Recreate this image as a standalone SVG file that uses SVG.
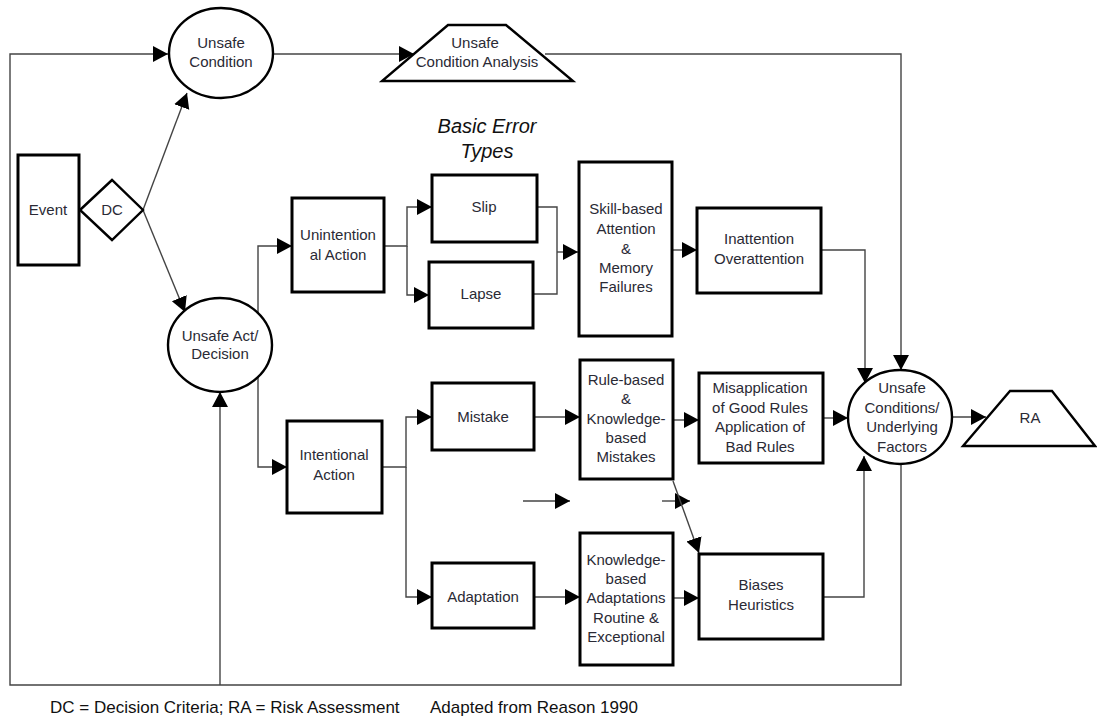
<svg xmlns="http://www.w3.org/2000/svg" width="1097" height="718" viewBox="0 0 1097 718">
<defs>
<marker id="arr" markerUnits="userSpaceOnUse" markerWidth="16" markerHeight="17" refX="15" refY="8" orient="auto">
<path d="M0,0 L15,8 L0,16 z" fill="#000"/>
</marker>
<style>
.c{fill:none;stroke:#444;stroke-width:1.4}
.a{marker-end:url(#arr)}
.box{fill:#fff;stroke:#000;stroke-width:3}
.ell{fill:#fff;stroke:#000;stroke-width:2.4}
.trap{fill:#fff;stroke:#000;stroke-width:2.4}
text{font-family:"Liberation Sans",Arial,sans-serif;font-size:15px;fill:#2a2a35;text-anchor:middle}
.ttl{font-size:20px;font-style:italic;fill:#111}
.ft{font-size:17px;text-anchor:start;fill:#111}
</style>
</defs>
<rect width="1097" height="718" fill="#fff"/>
<g id="connectors">
<path class="c a" d="M901,463 V685 H10 V54 H168"/>
<path class="c a" d="M220,685 V392"/>
<path class="c a" d="M143,210 L187,93"/>
<path class="c a" d="M143,210 L185,312"/>
<path class="c a" d="M273,54 H414"/>
<path class="c a" d="M545,54 H901 V370"/>
<path class="c a" d="M258,345 V246 H292"/>
<path class="c a" d="M258,345 V467 H287"/>
<path class="c a" d="M384,246 H407 V207 H432"/>
<path class="c a" d="M407,246 V295 H429"/>
<path class="c" d="M537,207 H557 V294 H533"/>
<path class="c a" d="M557,252 H578"/>
<path class="c a" d="M672,250 H697"/>
<path class="c a" d="M821,250 H865 V383"/>
<path class="c a" d="M382,467 H406 V417 H432"/>
<path class="c a" d="M406,467 V597 H432"/>
<path class="c a" d="M534,417 H580"/>
<path class="c a" d="M673,420 H699"/>
<path class="c a" d="M823,418 H848"/>
<path class="c a" d="M534,597 H580"/>
<path class="c a" d="M673,598 H699"/>
<path class="c a" d="M823,597 H864 V456"/>
<path class="c a" d="M952,417 H986"/>
<path class="c a" d="M523,501 H570"/>
<path class="c a" d="M662,501 H690"/>
<path class="c a" d="M673,481 L699,553"/>
</g>
<g id="unsafe-condition">
<ellipse class="ell" cx="221" cy="53" rx="52" ry="45"/>
<text x="221" y="48">Unsafe</text>
<text x="221" y="67">Condition</text>
</g>
<g id="uca">
<polygon class="trap" points="448,25 506,25 573,81 382,81"/>
<text x="475" y="48">Unsafe</text>
<text x="477" y="67">Condition Analysis</text>
</g>
<g id="event">
<rect class="box" x="18" y="155" width="61" height="110"/>
<text x="48" y="215">Event</text>
</g>
<g id="dc">
<polygon class="ell" points="80,210 112,180 143,210 112,240"/>
<text x="112" y="215">DC</text>
</g>
<g id="unsafe-act">
<ellipse class="ell" cx="220" cy="345" rx="52" ry="47"/>
<text x="220" y="341">Unsafe Act/</text>
<text x="220" y="359">Decision</text>
</g>
<g id="basic-error-types">
<text class="ttl" x="487" y="133">Basic Error</text>
<text class="ttl" x="487" y="158">Types</text>
</g>
<g id="unintentional">
<rect class="box" x="292" y="198" width="92" height="94"/>
<text x="338" y="240">Unintention</text>
<text x="338" y="260">al Action</text>
</g>
<g id="intentional">
<rect class="box" x="287" y="421" width="95" height="92"/>
<text x="334" y="460">Intentional</text>
<text x="334" y="480">Action</text>
</g>
<g id="slip">
<rect class="box" x="432" y="175" width="105" height="67"/>
<text x="484" y="212">Slip</text>
</g>
<g id="lapse">
<rect class="box" x="429" y="262" width="104" height="66"/>
<text x="481" y="299">Lapse</text>
</g>
<g id="skill">
<rect class="box" x="579" y="162" width="93" height="174"/>
<text x="626" y="214">Skill-based</text>
<text x="626" y="234">Attention</text>
<text x="626" y="254">&amp;</text>
<text x="626" y="273">Memory</text>
<text x="626" y="292">Failures</text>
</g>
<g id="inattention">
<rect class="box" x="697" y="208" width="124" height="85"/>
<text x="759" y="244">Inattention</text>
<text x="759" y="264">Overattention</text>
</g>
<g id="mistake">
<rect class="box" x="432" y="383" width="102" height="67"/>
<text x="483" y="422">Mistake</text>
</g>
<g id="rule-based">
<rect class="box" x="580" y="360" width="93" height="119"/>
<text x="626" y="385">Rule-based</text>
<text x="626" y="404">&amp;</text>
<text x="626" y="424">Knowledge-</text>
<text x="626" y="443">based</text>
<text x="626" y="462">Mistakes</text>
</g>
<g id="misapplication">
<rect class="box" x="699" y="373" width="124" height="90"/>
<text x="760" y="393">Misapplication</text>
<text x="760" y="413">of Good Rules</text>
<text x="760" y="432">Application of</text>
<text x="760" y="452">Bad Rules</text>
</g>
<g id="unsafe-conditions">
<ellipse class="ell" cx="900" cy="417" rx="52" ry="47"/>
<text x="902" y="393">Unsafe</text>
<text x="902" y="413">Conditions/</text>
<text x="902" y="432">Underlying</text>
<text x="902" y="452">Factors</text>
</g>
<g id="ra">
<polygon class="trap" points="1010,391 1052,391 1095,446 963,446"/>
<text x="1030" y="423">RA</text>
</g>
<g id="adaptation">
<rect class="box" x="432" y="563" width="102" height="65"/>
<text x="483" y="602">Adaptation</text>
</g>
<g id="kb-adaptations">
<rect class="box" x="580" y="533" width="93" height="132"/>
<text x="626" y="565">Knowledge-</text>
<text x="626" y="584">based</text>
<text x="626" y="603">Adaptations</text>
<text x="626" y="623">Routine &amp;</text>
<text x="626" y="642">Exceptional</text>
</g>
<g id="biases">
<rect class="box" x="699" y="554" width="124" height="85"/>
<text x="761" y="590">Biases</text>
<text x="761" y="610">Heuristics</text>
</g>
<g id="footer">
<text class="ft" x="50" y="713">DC = Decision Criteria; RA = Risk Assessment</text>
<text class="ft" x="430" y="713">Adapted from Reason 1990</text>
</g>
</svg>
